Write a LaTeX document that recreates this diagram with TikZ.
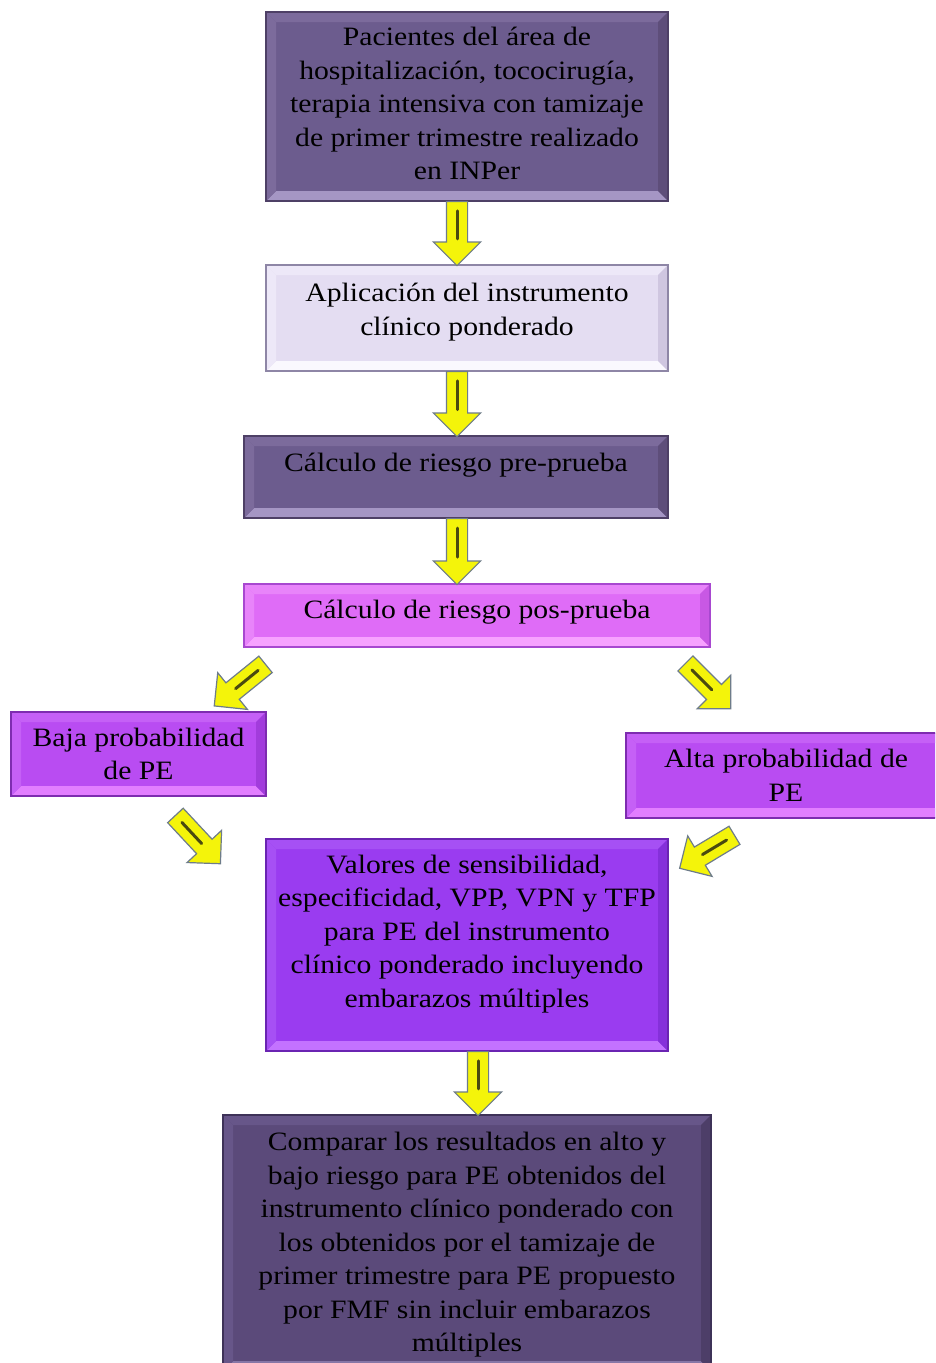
\documentclass[tikz,border=0pt]{standalone}
\usepackage{fontspec}
\setmainfont[FakeStretch=1.12]{Liberation Serif}
\usetikzlibrary{shapes.arrows,calc}
\definecolor{arrowyellow}{HTML}{F4F40A}
\definecolor{arrowedge}{HTML}{6E7C8A}
\definecolor{innerline}{HTML}{4A4A10}
\definecolor{dkA}{HTML}{6C5C8E}\definecolor{dkB}{HTML}{A596C4}\definecolor{dkC}{HTML}{7C6B9C}\definecolor{dkD}{HTML}{5E4E7A}\definecolor{dkE}{HTML}{4E4066}
\definecolor{drA}{HTML}{5B4A7A}\definecolor{drB}{HTML}{8676A6}\definecolor{drC}{HTML}{675689}\definecolor{drD}{HTML}{4D3E68}\definecolor{drE}{HTML}{3E3258}
\definecolor{ltA}{HTML}{E4DDF2}\definecolor{ltB}{HTML}{FAF8FE}\definecolor{ltC}{HTML}{EDE8F8}\definecolor{ltD}{HTML}{CFC6E0}\definecolor{ltE}{HTML}{8E86A6}
\definecolor{pkA}{HTML}{DF6CF7}\definecolor{pkB}{HTML}{F7A2FF}\definecolor{pkC}{HTML}{E884FA}\definecolor{pkD}{HTML}{C858E4}\definecolor{pkE}{HTML}{A848D0}
\definecolor{viA}{HTML}{B94CF2}\definecolor{viB}{HTML}{E27EFF}\definecolor{viC}{HTML}{C560F6}\definecolor{viD}{HTML}{A23CDC}\definecolor{viE}{HTML}{7E2CB0}
\definecolor{puA}{HTML}{9A3CF0}\definecolor{puB}{HTML}{C372FF}\definecolor{puC}{HTML}{A650F4}\definecolor{puD}{HTML}{8530DA}\definecolor{puE}{HTML}{6A24B2}
\newcommand\boxtext[3]{\raisebox{#1}[\height][\depth]{\parbox{#2}{\centering #3}}}
\tikzset{
  bevel/.style={fill=#1A, draw=#1E, line width=1.3pt, inner sep=0pt,
    font=\fontsize{26.5}{33.5}\selectfont,
    path picture={
      \fill[#1B] (path picture bounding box.south west) -- (path picture bounding box.south east)
        -- ([shift={(-10pt,10pt)}]path picture bounding box.south east) -- ([shift={(10pt,10pt)}]path picture bounding box.south west) -- cycle;
      \fill[#1C] (path picture bounding box.north west) -- (path picture bounding box.north east)
        -- ([shift={(-10pt,-10pt)}]path picture bounding box.north east) -- ([shift={(10pt,-10pt)}]path picture bounding box.north west) -- cycle;
      \fill[#1C] (path picture bounding box.north west) -- ([shift={(10pt,-10pt)}]path picture bounding box.north west)
        -- ([shift={(10pt,10pt)}]path picture bounding box.south west) -- (path picture bounding box.south west) -- cycle;
      \fill[#1D] (path picture bounding box.north east) -- ([shift={(-10pt,-10pt)}]path picture bounding box.north east)
        -- ([shift={(-10pt,10pt)}]path picture bounding box.south east) -- (path picture bounding box.south east) -- cycle;
    }},
  darkbox/.style={bevel=dk},
  darkerbox/.style={bevel=dr},
  lightbox/.style={bevel=lt},
  pinkbox/.style={bevel=pk},
  violetbox/.style={bevel=vi},
  purplebox/.style={bevel=pu},
  yarrow/.style={shape=single arrow, fill=arrowyellow, draw=arrowedge, line width=1.2pt,
    inner xsep=0pt, inner ysep=10pt, text height=0pt, text depth=0pt, anchor=tail,
    single arrow head extend=13pt, minimum height=#1},
}
\begin{document}
\begin{tikzpicture}[x=1pt,y=1pt]
\useasboundingbox (0,0) rectangle (935,-1363);
\clip (0,0) rectangle (935,-1363);
\fill[white] (0,0) rectangle (935,-1363);

\node[darkbox, minimum width=402pt, minimum height=189pt] (b1) at (467,-106.5)
  {\boxtext{3pt}{400pt}{Pacientes del área de\\hospitalización, tococirugía,\\terapia intensiva con tamizaje\\de primer trimestre realizado\\en INPer}};
\node[lightbox, minimum width=402pt, minimum height=106pt] (b2) at (467,-318)
  {\boxtext{6pt}{400pt}{Aplicación del instrumento\\clínico ponderado}};
\node[darkbox, minimum width=424pt, minimum height=82pt] (b3) at (456,-477)
  {\boxtext{12pt}{420pt}{Cálculo de riesgo pre-prueba}};
\node[pinkbox, minimum width=466pt, minimum height=63pt] (b4) at (477,-615.5)
  {\boxtext{3pt}{460pt}{Cálculo de riesgo pos-prueba}};
\node[violetbox, minimum width=255pt, minimum height=84pt] (b5) at (138.5,-754)
  {\boxtext{0pt}{252pt}{Baja probabilidad\\de PE}};
\node[violetbox, minimum width=320pt, minimum height=85pt] (b6) at (786,-775.5)
  {\boxtext{0pt}{315pt}{Alta probabilidad de\\PE}};
\node[purplebox, minimum width=402pt, minimum height=212pt] (b7) at (467,-945)
  {\boxtext{11pt}{400pt}{Valores de sensibilidad,\\especificidad, VPP, VPN y TFP\\para PE del instrumento\\clínico ponderado incluyendo\\embarazos múltiples}};
\node[darkerbox, minimum width=488pt, minimum height=256pt] (b8) at (467,-1243)
  {\boxtext{-2pt}{485pt}{Comparar los resultados en alto y\\bajo riesgo para PE obtenidos del\\instrumento clínico ponderado con\\los obtenidos por el tamizaje de\\primer trimestre para PE propuesto\\por FMF sin incluir embarazos\\múltiples}};

\node[yarrow=64pt, rotate=-90] (a1) at (457,-201) {};
\node[yarrow=65pt, rotate=-90] (a2) at (457,-371) {};
\node[yarrow=66pt, rotate=-90] (a3) at (457,-518) {};
\node[yarrow=66pt, rotate=219] (a4) at (266,-664) {};
\node[yarrow=64pt, rotate=-45] (a5) at (685,-663) {};
\node[yarrow=66pt, rotate=-47] (a6) at (175,-815) {};
\node[yarrow=64pt, rotate=211] (a7) at (735,-835) {};
\node[yarrow=64pt, rotate=-90] (a8) at (478,-1051) {};
\foreach \a in {a1,a2,a3,a4,a5,a6,a7,a8}
  \draw[innerline, line width=3pt, line cap=round] ($(\a.tail)!0.15!(\a.tip)$) -- ($(\a.tail)!0.58!(\a.tip)$);
\end{tikzpicture}
\end{document}
